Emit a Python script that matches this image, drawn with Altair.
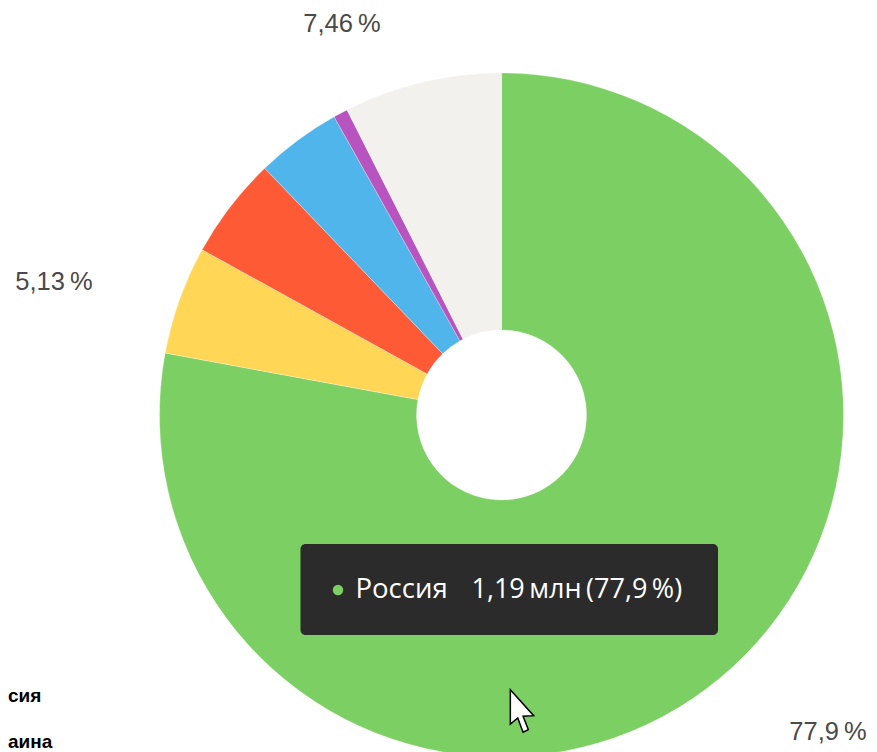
import altair as alt
import pandas as pd

countries = ["Россия", "Другая 1", "Другая 2", "Другая 3", "Другая 4", "Прочие"]
shares = [77.9, 5.13, 4.8, 4.03, 0.68, 7.46]
colors = ["#7CCF62", "#FFD655", "#FF5A36", "#4FB5EA", "#B754C0", "#F2F1EE"]
order = [0, 1, 2, 3, 4, 5]
pct_labels = ["7,46\u2009%", "5,13\u2009%", "77,9\u2009%"]
legend_labels = ["сия", "аина"]
tip_name = "Россия"
tip_value = "1,19\u2009млн\u2009(77,9\u2009%)"

OX, OY = 8, 8
def px(v): return alt.value(v - OX)
def py(v): return alt.value(v - OY)

df = pd.DataFrame({"country": countries, "share": shares, "o": order})

pie = alt.Chart(df).mark_arc(radius=342, innerRadius=85, stroke="#ffffff", strokeWidth=0.3).encode(
    theta=alt.Theta("share:Q", stack=True, scale=alt.Scale(range=[0, 6.283185307])),
    order=alt.Order("o:Q"),
    color=alt.Color("country:N", scale=alt.Scale(domain=countries, range=colors), legend=None),
    x=px(501.5), y=py(415),
)

def text(label, x, y, align="left", size=24, color="#4A4A4A", font="Liberation Sans", weight="normal"):
    return alt.Chart(pd.DataFrame({"t": [label]})).mark_text(
        align=align, baseline="middle", fontSize=size, color=color, font=font, fontWeight=weight
    ).encode(text="t:N", x=px(x), y=py(y))

labels = [
    text(pct_labels[0], 342, 24, "center", 25.5),
    text(pct_labels[1], 54, 282, "center", 25.5),
    text(pct_labels[2], 828, 732, "center", 25.5),
]
legend = [
    text(legend_labels[0], 8, 696, "left", 19, "#000000", "Liberation Sans", "bold"),
    text(legend_labels[1], 8, 742, "left", 19, "#000000", "Liberation Sans", "bold"),
]

tip_bg = alt.Chart(pd.DataFrame({"a": [0]})).mark_rect(color="#2B2B2B", cornerRadius=5).encode(
    x=px(300.5), x2=px(718), y=py(544), y2=py(635)
)
tip_dot = alt.Chart(pd.DataFrame({"a": [0]})).mark_point(filled=True, color=colors[0], size=110, opacity=1).encode(
    x=px(338), y=py(590)
)
tip = [
    text(tip_name, 355.5, 589.5, "left", 27.5, "#FFFFFF", "Open Sans"),
    text(tip_value, 471.5, 589.5, "left", 27, "#FFFFFF", "Open Sans"),
]

cursor_path = "M -0.55 -1 L -0.55 0.62 L -0.2 0.33 L 0.05 1 L 0.3 0.88 L 0.05 0.25 L 0.55 0.22 Z"
cursor = alt.Chart(pd.DataFrame({"a": [0]})).mark_point(
    shape=cursor_path, filled=True, fill="#FFFFFF", stroke="#000000", strokeWidth=1.5, size=1800, opacity=1
).encode(x=px(522), y=py(711))

chart = alt.layer(pie, *labels, *legend, tip_bg, tip_dot, *tip, cursor).properties(
    width=861, height=760, padding=0, autosize=alt.AutoSizeParams(type="none"), background="#FFFFFF"
).configure_view(stroke=None)

chart.save("out.html", embed_options={"renderer": "svg", "actions": False})
